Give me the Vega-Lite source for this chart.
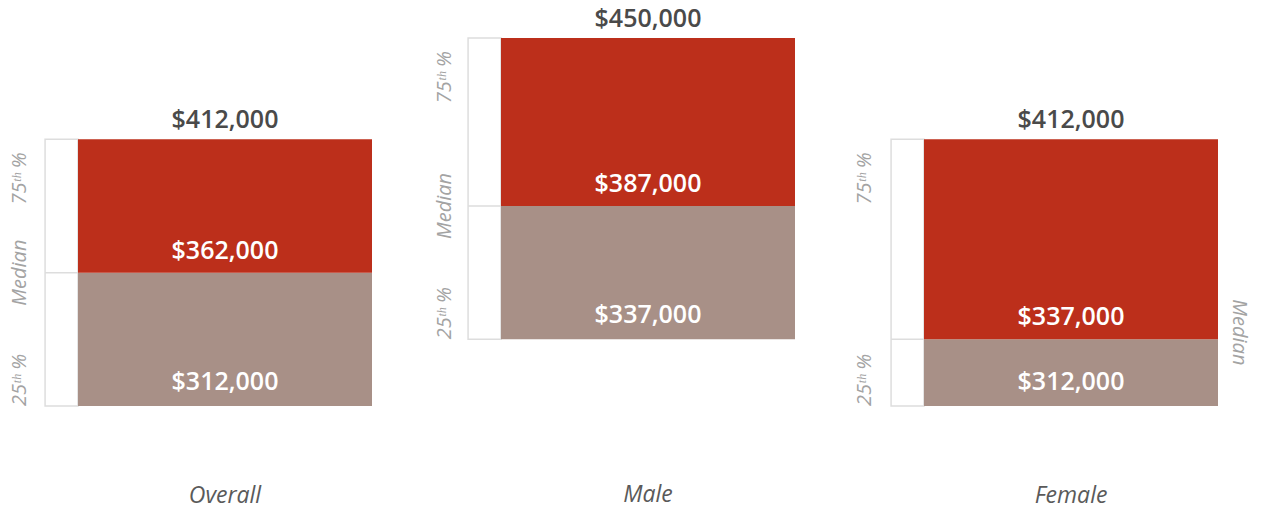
{
  "$schema": "https://vega.github.io/schema/vega-lite/v6.json",
  "padding": {"left": 10, "top": 7, "right": 20, "bottom": 6},
  "bounds": "flush",
  "spacing": 129,
  "datasets": {
    "stats": [
      {"group": "Overall", "p25": 312000, "median": 362000, "p75": 412000},
      {"group": "Male", "p25": 337000, "median": 387000, "p75": 450000},
      {"group": "Female", "p25": 312000, "median": 337000, "p75": 412000}
    ]
  },
  "config": {
    "view": {"stroke": null},
    "text": {"font": "Open Sans"},
    "title": {"orient": "bottom", "anchor": "middle", "font": "Open Sans", "fontStyle": "italic", "fontWeight": 400, "fontSize": 23, "color": "#5a5a5a", "offset": 78}
  },
  "hconcat": [
    {
      "width": 294, "height": 368,
      "title": "Overall",
      "data": {"name": "stats"},
      "transform": [{"filter": "datum.group === 'Overall'"}],
      "layer": [
        {"mark": {"type": "rect", "fill": "white", "stroke": "#dddddd", "strokeWidth": 1.5},
         "encoding": {"x": {"datum": -0.112, "type": "quantitative", "scale": {"domain": [0, 1], "nice": false, "zero": false}, "axis": null}, "x2": {"datum": 0},
                      "y": {"field": "p25", "type": "quantitative", "scale": {"domain": [312000, 450000], "nice": false, "zero": false}, "axis": null}, "y2": {"field": "p75"}}},
        {"mark": {"type": "rule", "color": "#dddddd", "strokeWidth": 1.5},
         "encoding": {"x": {"datum": -0.112, "type": "quantitative", "axis": null}, "x2": {"datum": 0}, "y": {"field": "median", "type": "quantitative", "axis": null}}},
        {"mark": {"type": "rect", "fill": "#A89087"},
         "encoding": {"x": {"datum": 0, "type": "quantitative", "axis": null}, "x2": {"datum": 1}, "y": {"field": "p25", "type": "quantitative", "axis": null}, "y2": {"field": "median"}}},
        {"mark": {"type": "rect", "fill": "#BC2F1B"},
         "encoding": {"x": {"datum": 0, "type": "quantitative", "axis": null}, "x2": {"datum": 1}, "y": {"field": "median", "type": "quantitative", "axis": null}, "y2": {"field": "p75"}}},
        {"mark": {"type": "text", "fontWeight": 600, "fontSize": 25, "color": "#4a4a4a", "baseline": "alphabetic", "dy": -11},
         "encoding": {"x": {"datum": 0.5, "type": "quantitative", "axis": null}, "y": {"field": "p75", "type": "quantitative", "axis": null}, "text": {"field": "p75", "type": "quantitative", "format": "$,.0f"}}},
        {"mark": {"type": "text", "fontWeight": 600, "fontSize": 25, "color": "white", "baseline": "alphabetic", "dy": -14},
         "encoding": {"x": {"datum": 0.5, "type": "quantitative", "axis": null}, "y": {"field": "median", "type": "quantitative", "axis": null}, "text": {"field": "median", "type": "quantitative", "format": "$,.0f"}}},
        {"mark": {"type": "text", "fontWeight": 600, "fontSize": 25, "color": "white", "baseline": "alphabetic", "dy": -16},
         "encoding": {"x": {"datum": 0.5, "type": "quantitative", "axis": null}, "y": {"field": "p25", "type": "quantitative", "axis": null}, "text": {"field": "p25", "type": "quantitative", "format": "$,.0f"}}},
        {"mark": {"type": "text", "angle": 270, "align": "right", "baseline": "middle", "dx": -13, "fontStyle": "italic", "fontWeight": 400, "fontSize": 20, "color": "#a3a3a3"},
         "encoding": {"x": {"datum": -0.197, "type": "quantitative", "axis": null}, "y": {"field": "p75", "type": "quantitative", "axis": null}, "text": {"value": "75ᵗʰ %"}}},
        {"mark": {"type": "text", "angle": 270, "align": "center", "baseline": "middle", "fontStyle": "italic", "fontWeight": 400, "fontSize": 20, "color": "#a3a3a3"},
         "encoding": {"x": {"datum": -0.197, "type": "quantitative", "axis": null}, "y": {"field": "median", "type": "quantitative", "axis": null}, "text": {"value": "Median"}}},
        {"mark": {"type": "text", "angle": 270, "align": "left", "baseline": "middle", "fontStyle": "italic", "fontWeight": 400, "fontSize": 20, "color": "#a3a3a3"},
         "encoding": {"x": {"datum": -0.197, "type": "quantitative", "axis": null}, "y": {"field": "p25", "type": "quantitative", "axis": null}, "text": {"value": "25ᵗʰ %"}}}
      ]
    },
    {
      "width": 294, "height": 368,
      "title": "Male",
      "data": {"name": "stats"},
      "transform": [{"filter": "datum.group === 'Male'"}],
      "layer": [
        {"mark": {"type": "rect", "fill": "white", "stroke": "#dddddd", "strokeWidth": 1.5},
         "encoding": {"x": {"datum": -0.112, "type": "quantitative", "scale": {"domain": [0, 1], "nice": false, "zero": false}, "axis": null}, "x2": {"datum": 0},
                      "y": {"field": "p25", "type": "quantitative", "scale": {"domain": [312000, 450000], "nice": false, "zero": false}, "axis": null}, "y2": {"field": "p75"}}},
        {"mark": {"type": "rule", "color": "#dddddd", "strokeWidth": 1.5},
         "encoding": {"x": {"datum": -0.112, "type": "quantitative", "axis": null}, "x2": {"datum": 0}, "y": {"field": "median", "type": "quantitative", "axis": null}}},
        {"mark": {"type": "rect", "fill": "#A89087"},
         "encoding": {"x": {"datum": 0, "type": "quantitative", "axis": null}, "x2": {"datum": 1}, "y": {"field": "p25", "type": "quantitative", "axis": null}, "y2": {"field": "median"}}},
        {"mark": {"type": "rect", "fill": "#BC2F1B"},
         "encoding": {"x": {"datum": 0, "type": "quantitative", "axis": null}, "x2": {"datum": 1}, "y": {"field": "median", "type": "quantitative", "axis": null}, "y2": {"field": "p75"}}},
        {"mark": {"type": "text", "fontWeight": 600, "fontSize": 25, "color": "#4a4a4a", "baseline": "alphabetic", "dy": -11},
         "encoding": {"x": {"datum": 0.5, "type": "quantitative", "axis": null}, "y": {"field": "p75", "type": "quantitative", "axis": null}, "text": {"field": "p75", "type": "quantitative", "format": "$,.0f"}}},
        {"mark": {"type": "text", "fontWeight": 600, "fontSize": 25, "color": "white", "baseline": "alphabetic", "dy": -14},
         "encoding": {"x": {"datum": 0.5, "type": "quantitative", "axis": null}, "y": {"field": "median", "type": "quantitative", "axis": null}, "text": {"field": "median", "type": "quantitative", "format": "$,.0f"}}},
        {"mark": {"type": "text", "fontWeight": 600, "fontSize": 25, "color": "white", "baseline": "alphabetic", "dy": -16},
         "encoding": {"x": {"datum": 0.5, "type": "quantitative", "axis": null}, "y": {"field": "p25", "type": "quantitative", "axis": null}, "text": {"field": "p25", "type": "quantitative", "format": "$,.0f"}}},
        {"mark": {"type": "text", "angle": 270, "align": "right", "baseline": "middle", "dx": -13, "fontStyle": "italic", "fontWeight": 400, "fontSize": 20, "color": "#a3a3a3"},
         "encoding": {"x": {"datum": -0.19, "type": "quantitative", "axis": null}, "y": {"field": "p75", "type": "quantitative", "axis": null}, "text": {"value": "75ᵗʰ %"}}},
        {"mark": {"type": "text", "angle": 270, "align": "center", "baseline": "middle", "fontStyle": "italic", "fontWeight": 400, "fontSize": 20, "color": "#a3a3a3"},
         "encoding": {"x": {"datum": -0.19, "type": "quantitative", "axis": null}, "y": {"field": "median", "type": "quantitative", "axis": null}, "text": {"value": "Median"}}},
        {"mark": {"type": "text", "angle": 270, "align": "left", "baseline": "middle", "fontStyle": "italic", "fontWeight": 400, "fontSize": 20, "color": "#a3a3a3"},
         "encoding": {"x": {"datum": -0.19, "type": "quantitative", "axis": null}, "y": {"field": "p25", "type": "quantitative", "axis": null}, "text": {"value": "25ᵗʰ %"}}}
      ]
    },
    {
      "width": 294, "height": 368,
      "title": "Female",
      "data": {"name": "stats"},
      "transform": [{"filter": "datum.group === 'Female'"}],
      "layer": [
        {"mark": {"type": "rect", "fill": "white", "stroke": "#dddddd", "strokeWidth": 1.5},
         "encoding": {"x": {"datum": -0.112, "type": "quantitative", "scale": {"domain": [0, 1], "nice": false, "zero": false}, "axis": null}, "x2": {"datum": 0},
                      "y": {"field": "p25", "type": "quantitative", "scale": {"domain": [312000, 450000], "nice": false, "zero": false}, "axis": null}, "y2": {"field": "p75"}}},
        {"mark": {"type": "rule", "color": "#dddddd", "strokeWidth": 1.5},
         "encoding": {"x": {"datum": -0.112, "type": "quantitative", "axis": null}, "x2": {"datum": 0}, "y": {"field": "median", "type": "quantitative", "axis": null}}},
        {"mark": {"type": "rect", "fill": "#A89087"},
         "encoding": {"x": {"datum": 0, "type": "quantitative", "axis": null}, "x2": {"datum": 1}, "y": {"field": "p25", "type": "quantitative", "axis": null}, "y2": {"field": "median"}}},
        {"mark": {"type": "rect", "fill": "#BC2F1B"},
         "encoding": {"x": {"datum": 0, "type": "quantitative", "axis": null}, "x2": {"datum": 1}, "y": {"field": "median", "type": "quantitative", "axis": null}, "y2": {"field": "p75"}}},
        {"mark": {"type": "text", "fontWeight": 600, "fontSize": 25, "color": "#4a4a4a", "baseline": "alphabetic", "dy": -11},
         "encoding": {"x": {"datum": 0.5, "type": "quantitative", "axis": null}, "y": {"field": "p75", "type": "quantitative", "axis": null}, "text": {"field": "p75", "type": "quantitative", "format": "$,.0f"}}},
        {"mark": {"type": "text", "fontWeight": 600, "fontSize": 25, "color": "white", "baseline": "alphabetic", "dy": -14},
         "encoding": {"x": {"datum": 0.5, "type": "quantitative", "axis": null}, "y": {"field": "median", "type": "quantitative", "axis": null}, "text": {"field": "median", "type": "quantitative", "format": "$,.0f"}}},
        {"mark": {"type": "text", "fontWeight": 600, "fontSize": 25, "color": "white", "baseline": "alphabetic", "dy": -16},
         "encoding": {"x": {"datum": 0.5, "type": "quantitative", "axis": null}, "y": {"field": "p25", "type": "quantitative", "axis": null}, "text": {"field": "p25", "type": "quantitative", "format": "$,.0f"}}},
        {"mark": {"type": "text", "angle": 270, "align": "right", "baseline": "middle", "dx": -13, "fontStyle": "italic", "fontWeight": 400, "fontSize": 20, "color": "#a3a3a3"},
         "encoding": {"x": {"datum": -0.2, "type": "quantitative", "axis": null}, "y": {"field": "p75", "type": "quantitative", "axis": null}, "text": {"value": "75ᵗʰ %"}}},
        {"mark": {"type": "text", "angle": 90, "align": "center", "baseline": "middle", "dx": -7, "fontStyle": "italic", "fontWeight": 400, "fontSize": 20, "color": "#a3a3a3"},
         "encoding": {"x": {"datum": 1.0714, "type": "quantitative", "axis": null}, "y": {"field": "median", "type": "quantitative", "axis": null}, "text": {"value": "Median"}}},
        {"mark": {"type": "text", "angle": 270, "align": "left", "baseline": "middle", "fontStyle": "italic", "fontWeight": 400, "fontSize": 20, "color": "#a3a3a3"},
         "encoding": {"x": {"datum": -0.2, "type": "quantitative", "axis": null}, "y": {"field": "p25", "type": "quantitative", "axis": null}, "text": {"value": "25ᵗʰ %"}}}
      ]
    }
  ]
}
